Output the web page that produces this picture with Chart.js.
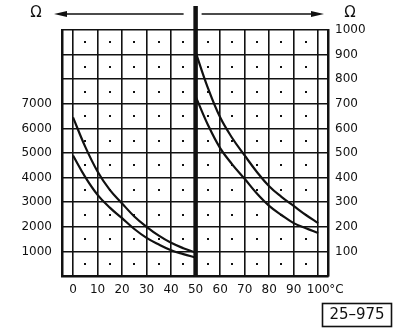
<!DOCTYPE html>
<html>
<head>
<meta charset="utf-8">
<script src="https://cdn.jsdelivr.net/npm/chart.js@4/dist/chart.umd.min.js"></script>
<style>
  html, body { margin: 0; padding: 0; background: #fff; }
  canvas { display: block; }
</style>
</head>
<body>
<canvas id="ntcChart" width="400" height="332"></canvas>
<script>
// temperature (°C) and resistance (Ω) readings for the two thermistor pairs
const tempLeft = [0, 5, 10, 15, 20, 25, 30, 35, 40, 45, 50];
const ohmLeftUpper = [6450, 5250, 4250, 3500, 2950, 2420, 2000, 1640, 1350, 1130, 950];
const ohmLeftLower = [4900, 4020, 3300, 2780, 2350, 1910, 1550, 1280, 1050, 890, 750];

const tempRight = [50, 55, 60, 65, 70, 75, 80, 85, 90, 95, 100];
const ohmRightUpper = [910, 765, 645, 560, 490, 423, 365, 322, 285, 248, 215];
const ohmRightLower = [730, 615, 520, 453, 395, 335, 285, 248, 215, 194, 175];

// axis ticks
const tempTicks = [0, 10, 20, 30, 40, 50, 60, 70, 80, 90, 100];
const leftTicks = [1000, 2000, 3000, 4000, 5000, 6000, 7000];
const rightTicks = [100, 200, 300, 400, 500, 600, 700, 800, 900, 1000];

const INK = '#111';
const FONT = 'DejaVu Sans';

const toPoints = (xs, ys) => xs.map((x, i) => ({ x: x, y: ys[i] }));

const curve = (xs, ys, axis) => ({
  data: toPoints(xs, ys),
  yAxisID: axis,
  borderColor: INK,
  borderWidth: 2.2,
  pointRadius: 0,
  fill: false,
  tension: 0.4
});

const plain = v => String(v);

// grid dots, split line at 50 °C, arrows and the figure number
const decor = {
  id: 'decor',
  beforeDatasetsDraw(chart) {
    const { ctx, scales } = chart;
    const xs = scales.x, ys = scales.y1;
    ctx.save();
    ctx.fillStyle = INK;
    for (let t = 5; t < 100; t += 10) {
      for (let r = 50; r < 1000; r += 100) {
        const px = xs.getPixelForValue(t), py = ys.getPixelForValue(r);
        ctx.fillRect(Math.round(px) - 1, Math.round(py) - 1, 2, 2);
      }
    }
    ctx.restore();
  },
  afterDatasetsDraw(chart) {
    const { ctx, scales, chartArea } = chart;
    const mid = scales.x.getPixelForValue(50);
    ctx.save();
    ctx.strokeStyle = INK;
    ctx.fillStyle = INK;

    // heavy divider
    ctx.lineWidth = 4.5;
    ctx.beginPath();
    ctx.moveTo(mid, 6);
    ctx.lineTo(mid, chartArea.bottom + 1);
    ctx.stroke();

    // arrows pointing to each resistance scale
    const ay = 14;
    ctx.lineWidth = 1.5;
    ctx.beginPath();
    ctx.moveTo(mid - 12, ay);
    ctx.lineTo(62, ay);
    ctx.moveTo(mid + 6, ay);
    ctx.lineTo(316, ay);
    ctx.stroke();
    ctx.beginPath();
    ctx.moveTo(54, ay);
    ctx.lineTo(67, ay - 3);
    ctx.lineTo(67, ay + 3);
    ctx.closePath();
    ctx.moveTo(324, ay);
    ctx.lineTo(311, ay - 3);
    ctx.lineTo(311, ay + 3);
    ctx.closePath();
    ctx.fill();

    ctx.font = '15px ' + FONT;
    ctx.textAlign = 'center';
    ctx.textBaseline = 'middle';
    ctx.fillText('Ω', 36, 13);
    ctx.fillText('Ω', 350, 13);

    // unit after the last temperature tick
    ctx.font = '12px ' + FONT;
    ctx.textAlign = 'left';
    ctx.fillText('°C', scales.x.getPixelForValue(100) + 11, 290);

    // figure number
    ctx.lineWidth = 1.6;
    ctx.strokeRect(322.5, 303.5, 69, 23);
    ctx.font = '15px ' + FONT;
    ctx.textAlign = 'center';
    ctx.fillText('25–975', 357, 315.5);
    ctx.restore();
  }
};

new Chart(document.getElementById('ntcChart'), {
  type: 'line',
  data: {
    datasets: [
      curve(tempLeft, ohmLeftUpper, 'y'),
      curve(tempLeft, ohmLeftLower, 'y'),
      curve(tempRight, ohmRightUpper, 'y1'),
      curve(tempRight, ohmRightLower, 'y1')
    ]
  },
  options: {
    responsive: false,
    animation: false,
    devicePixelRatio: 1,
    layout: { padding: { top: 30, left: 0, right: 0, bottom: 0 } },
    plugins: { legend: { display: false }, tooltip: { enabled: false } },
    scales: {
      x: {
        type: 'linear',
        min: -4.5,
        max: 104,
        afterBuildTicks: s => { s.ticks = tempTicks.map(v => ({ value: v })); },
        afterFit: s => { s.height = 56; },
        ticks: {
          color: INK,
          font: { family: FONT, size: 12 },
          padding: 7,
          maxRotation: 0,
          autoSkip: false,
          callback: plain
        },
        grid: { color: INK, lineWidth: 1.6, drawTicks: false },
        border: { color: INK, width: 2.5 }
      },
      y: {
        position: 'left',
        min: 0,
        max: 10000,
        afterBuildTicks: s => { s.ticks = leftTicks.map(v => ({ value: v })); },
        afterFit: s => { s.width = 62; },
        ticks: { color: INK, font: { family: FONT, size: 12 }, padding: 10, callback: plain },
        grid: { display: false, drawTicks: false },
        border: { color: INK, width: 2.5 }
      },
      y1: {
        position: 'right',
        min: 0,
        max: 1000,
        afterBuildTicks: s => { s.ticks = rightTicks.map(v => ({ value: v })); },
        afterFit: s => { s.width = 72; },
        ticks: { color: INK, font: { family: FONT, size: 12 }, padding: 7, callback: plain },
        grid: { color: INK, lineWidth: 1.6, drawTicks: false },
        border: { color: INK, width: 2.5 }
      }
    }
  },
  plugins: [decor]
});
</script>
</body>
</html>
